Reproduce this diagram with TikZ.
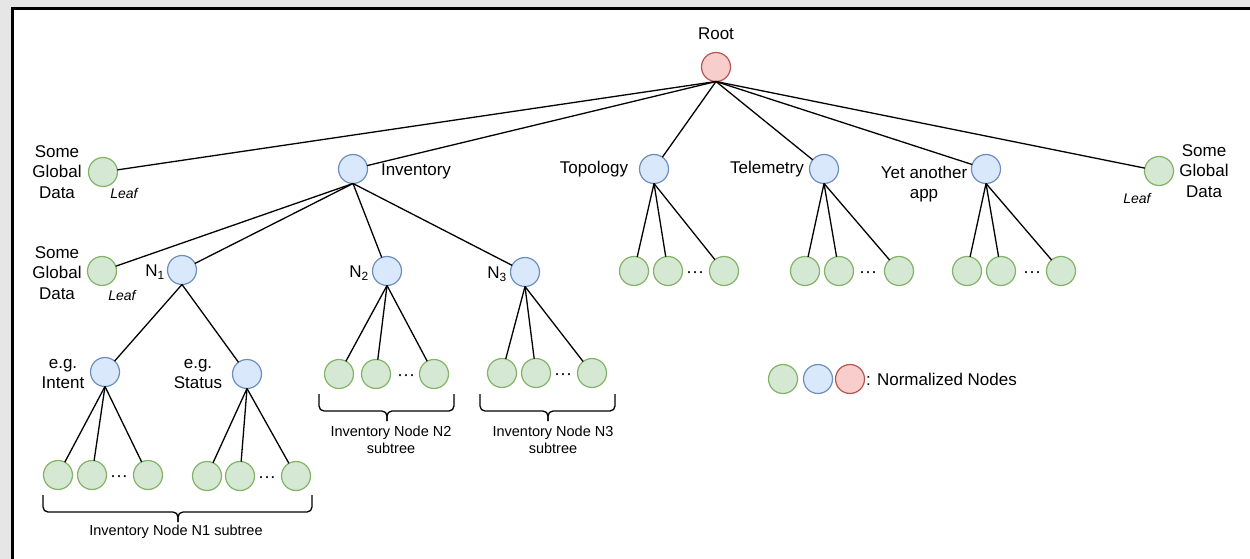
\documentclass[tikz,border=0pt]{standalone}
\usepackage{fontspec}
\setmainfont{Liberation Sans}
\definecolor{gfill}{HTML}{D5E8D4}
\definecolor{gdraw}{HTML}{82B366}
\definecolor{bfill}{HTML}{DAE8FC}
\definecolor{bdraw}{HTML}{6C8EBF}
\definecolor{rfill}{HTML}{F8CECC}
\definecolor{rdraw}{HTML}{B85450}
\definecolor{shadow}{HTML}{E6E6E6}
\begin{document}
\begin{tikzpicture}[x=1pt,y=-1pt,
  every node/.style={inner sep=0pt,outer sep=0pt},
  circ/.style={circle,minimum size=29pt,line width=1.2pt},
  gn/.style={circ,fill=gfill,draw=gdraw},
  bn/.style={circ,fill=bfill,draw=bdraw},
  rn/.style={circ,fill=rfill,draw=rdraw},
  lbl/.style={font=\fontsize{17}{20.5}\selectfont,align=center},
  sm/.style={font=\fontsize{14.5}{17}\selectfont,align=center},
  lf/.style={font=\fontsize{14}{16}\selectfont\itshape},
  dts/.style={font=\fontsize{18}{20}\selectfont,yshift=-3.5pt},
  edge/.style={line width=1.3pt,black},
  bracepath/.style={line width=1.3pt,rounded corners=5pt}]
\useasboundingbox (0,0) rectangle (1250,559);
\clip (0,0) rectangle (1250,559);
% frame
\fill[shadow] (0,0) rectangle (1250,559);
\fill[white] (12,8.5) rectangle (1250,559);
\draw[line width=3pt] (12,560) -- (12,8.5) -- (1251,8.5);

% root
\node[rn] (root) at (716,67) {};
\node[lbl] (rootl) at (716,34) {Root};

% level 1
\node[gn] (lg1) at (103,172) {};
\node[lbl] (lg1l) at (57,172) {Some\\Global\\Data};
\node[lf] (lg1f) at (124,193) {Leaf};
\node[bn] (inv) at (353,169) {};
\node[lbl] (invl) at (416,171) {Inventory};
\node[bn] (topo) at (654,169) {};
\node[lbl] (topol) at (594,169) {Topology};
\node[bn] (tele) at (824,169) {};
\node[lbl] (telel) at (767,169) {Telemetry};
\node[bn] (yet) at (986,169) {};
\node[lbl] (yetl) at (924,184) {Yet another\\app};
\node[gn] (lg2) at (1159,171) {};
\node[lbl] (lg2l) at (1204,171) {Some\\Global\\Data};
\node[lf] (lg2f) at (1137,198) {Leaf};

\foreach \c in {lg1,inv,topo,tele,yet,lg2} \draw[edge] (root.south) -- (\c);

% inventory children
\node[gn] (lg3) at (102,271) {};
\node[lbl] (lg3l) at (57,273) {Some\\Global\\Data};
\node[lf] (lg3f) at (122,295) {Leaf};
\node[bn] (n1) at (182,270) {};
\node[lbl] (n1l) at (155,272) {N\textsubscript{1}};
\node[bn] (n2) at (387,271) {};
\node[lbl] (n2l) at (359,273) {N\textsubscript{2}};
\node[bn] (n3) at (525,272) {};
\node[lbl] (n3l) at (497,274) {N\textsubscript{3}};
\foreach \c in {lg3,n1,n2,n3} \draw[edge] (inv.south) -- (\c);

% N1 children
\node[bn] (intent) at (105,372) {};
\node[lbl] (intentl) at (63,374) {e.g.\\Intent};
\node[bn] (status) at (247,374) {};
\node[lbl] (statusl) at (198,374) {e.g.\\Status};
\draw[edge] (n1.south) -- (intent);
\draw[edge] (n1.south) -- (status);

% leaves under intent
\node[gn] (i1) at (58,475) {};
\node[gn] (i2) at (92,475) {};
\node[dts] (idots) at (119,475) {···};
\node[gn] (i3) at (148,475) {};
\foreach \c in {i1,i2,i3} \draw[edge] (intent.south) -- (\c);
% leaves under status
\node[gn] (s1) at (207,476) {};
\node[gn] (s2) at (240,476) {};
\node[dts] (sdots) at (267,476) {···};
\node[gn] (s3) at (296,476) {};
\foreach \c in {s1,s2,s3} \draw[edge] (status.south) -- (\c);

% leaves under N2
\node[gn] (a1) at (339,374) {};
\node[gn] (a2) at (376,374) {};
\node[dts] (adots) at (406,374) {···};
\node[gn] (a3) at (434,374) {};
\foreach \c in {a1,a2,a3} \draw[edge] (n2.south) -- (\c);
% leaves under N3
\node[gn] (b1) at (502,373) {};
\node[gn] (b2) at (536,373) {};
\node[dts] (bdots) at (563,373) {···};
\node[gn] (b3) at (592,373) {};
\foreach \c in {b1,b2,b3} \draw[edge] (n3.south) -- (\c);

% leaves under topology
\node[gn] (t1) at (634,271) {};
\node[gn] (t2) at (668,271) {};
\node[dts] (tdots) at (695,271) {···};
\node[gn] (t3) at (724,271) {};
\foreach \c in {t1,t2,t3} \draw[edge] (topo.south) -- (\c);
% leaves under telemetry
\node[gn] (e1) at (805,271) {};
\node[gn] (e2) at (839,271) {};
\node[dts] (edots) at (868,271) {···};
\node[gn] (e3) at (899,271) {};
\foreach \c in {e1,e2,e3} \draw[edge] (tele.south) -- (\c);
% leaves under yet another app
\node[gn] (y1) at (967,271) {};
\node[gn] (y2) at (1001,271) {};
\node[dts] (ydots) at (1032,271) {···};
\node[gn] (y3) at (1061,271) {};
\foreach \c in {y1,y2,y3} \draw[edge] (yet.south) -- (\c);

% braces
\draw[bracepath] (43,495) -- (43,512) -- (178,512) -- (178,522);
\draw[bracepath] (312,495) -- (312,512) -- (178,512) -- (178,522);
\node[sm] (br1l) at (176,532) {Inventory Node N1 subtree};
\draw[bracepath] (319,394) -- (319,411) -- (387,411) -- (387,421);
\draw[bracepath] (454,394) -- (454,411) -- (387,411) -- (387,421);
\node[sm] (br2l) at (391,440) {Inventory Node N2\\subtree};
\draw[bracepath] (480,394) -- (480,411) -- (548,411) -- (548,421);
\draw[bracepath] (615,394) -- (615,411) -- (548,411) -- (548,421);
\node[sm] (br3l) at (553,440) {Inventory Node N3\\subtree};

% legend
\node[gn] (lgg) at (783,379) {};
\node[bn] (lgb) at (818,379) {};
\node[rn] (lgr) at (850,379) {};
\node[lbl,anchor=west] (lgt) at (866,379) {: Normalized Nodes};
\end{tikzpicture}
\end{document}
